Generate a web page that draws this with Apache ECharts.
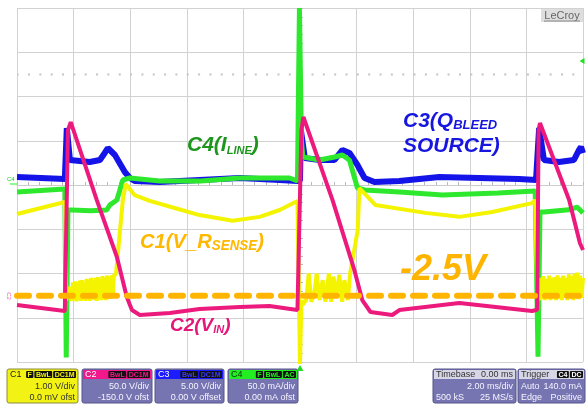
<!DOCTYPE html>
<html><head><meta charset="utf-8">
<script src="https://cdn.jsdelivr.net/npm/echarts/dist/echarts.min.js"></script>
<style>html,body{margin:0;padding:0;background:#fff;}#c{width:586px;height:406px;}</style>
</head><body><div id="c"></div>
<script>
// ---- time axis: ms, 2 ms/div, trigger at 0 ----
const timeMin = -10, timeMax = 10, timeStep = 2;
// per-channel vertical scales (8 divisions)
const c1Range = [-4, 4];        // V, 1 V/div
const c2Range = [-50, 350];     // V, 50 V/div, -150 V offset
const c3Range = [-20, 20];      // V, 5 V/div
const c4Range = [-200, 200];    // mA, 50 mA/div
const senseLevel = -2.5;        // V on C1
const graticuleDots = 2.5;      // div
const triggerTime = 0, triggerLevel = 140;

// C1  V_RSENSE  [ms, V]
const c1Trace = [[-10,-0.655],[-8.31,-0.384],[-8.26,-2.6],[-8.13,-2.3],
 [-8.06,-2.62],[-8.02,-2.2],[-7.98,-2.6],[-7.94,-2.18],[-7.90,-2.63],[-7.86,-2.22],[-7.82,-2.6],[-7.78,-2.16],[-7.74,-2.62],[-7.70,-2.15],[-7.66,-2.58],[-7.62,-2.2],[-7.58,-2.62],[-7.54,-2.12],[-7.50,-2.6],[-7.46,-2.14],[-7.42,-2.62],[-7.38,-2.1],[-7.34,-2.58],[-7.30,-2.15],[-7.26,-2.6],[-7.22,-2.1],[-7.18,-2.62],[-7.14,-2.08],[-7.10,-2.58],[-7.06,-2.12],[-7.02,-2.6],[-6.98,-2.06],[-6.94,-2.56],[-6.90,-2.1],[-6.86,-2.6],[-6.82,-2.05],[-6.78,-2.58],[-6.74,-2.08],[-6.70,-2.56],[-6.66,-2.04],[-6.62,-2.55],[-6.58,-2.06],
 [-6.50,-2.0],[-6.26,-0.34],[-6.16,0.02],[-5.84,-0.23],[-5.31,-0.36],[-4.43,-0.52],[-3.55,-0.68],[-2.38,-0.81],[-1.43,-0.72],[-0.72,-0.565],[-0.09,-0.36],[-0.03,-0.4],[0,-4.05],[0.05,-2.6],
 [0.10,-2.7],[0.22,-2.6],[0.31,-2.0],[0.40,-2.64],[0.51,-2.45],[0.59,-2.0],[0.69,-2.6],[0.80,-2.15],[0.90,-2.64],[1.02,-2.0],[1.10,-2.64],[1.18,-2.07],[1.28,-2.52],[1.39,-2.03],[1.49,-2.64],[1.57,-2.15],[1.69,-2.6],[1.77,-2.0],
 [2.04,-1.02],[2.10,-0.07],[2.66,-0.45],[4.43,-0.63],[5.63,-0.72],[6.79,-0.61],[8.2,-0.41],[8.31,-0.34],[8.38,-2.4],
 [8.45,-2.6],[8.50,-2.1],[8.55,-2.58],[8.60,-2.06],[8.65,-2.6],[8.70,-2.12],[8.75,-2.56],[8.80,-2.05],[8.85,-2.6],[8.90,-2.1],[8.95,-2.55],[9.00,-2.08],[9.05,-2.6],[9.10,-2.04],[9.15,-2.57],[9.20,-2.1],[9.25,-2.6],[9.30,-2.05],[9.35,-2.55],[9.40,-2.1],[9.45,-2.6],[9.50,-2.02],[9.55,-2.56],[9.60,-2.06],[9.65,-2.6],[9.70,-2.0],[9.75,-2.55],[9.80,-1.98],[9.85,-2.58],[9.90,-2.05],[9.95,-2.55],[10,-2.1]];

// C2  V_IN  [ms, V]
const c2Trace = [[-10,14.4],[-8.31,7.6],[-8.27,8],[-8.2,212],[-8.1,221],[-7.18,133],[-6.47,68.6],[-6.12,23.4],[-5.94,8.7],[-5.66,3.1],[-4.6,5.4],[-3.55,9.9],[-2.13,12.1],[-1.08,13.3],[-0.09,8.7],[-0.02,9],[0.05,212],[0.12,226.8],[1.15,133],[1.92,54],[2.2,20],[2.49,6.5],[3.26,3.1],[3.51,8.7],[5.63,16.7],[8.2,7.6],[8.38,9],[8.43,212],[8.48,220],[9.51,133],[9.89,84.5],[10,76.6]];

// C3  Q_BLEED SOURCE  [ms, V]
const c3Trace = [[-10,0.9],[-8.31,0.68],[-8.27,0.7],[-8.24,6.44],[-8.13,2.83],[-7.43,2.6],[-7.07,2.83],[-6.9,3.62],[-6.79,4.18],[-6.54,3.39],[-6.19,1.47],[-6.01,0.79],[-5.84,0.45],[-4.96,0.34],[-3.55,0.57],[-2.13,0.79],[-0.72,0.57],[-0.09,0.45],[0,0.5],[0.03,6.22],[0.17,3.05],[0.69,2.83],[1.22,2.83],[1.5,3.96],[1.75,3.62],[2.03,2.26],[2.28,0.79],[2.63,0.34],[3.51,0.45],[4.92,0.9],[6.33,0.79],[7.74,0.68],[8.34,0.57],[8.41,0.6],[8.45,6.44],[8.62,2.83],[9.15,2.6],[9.68,2.83],[9.86,3.96],[9.93,4.29],[10,3.6]];

// C4  I_LINE  [ms, mA]
const c4Trace = [[-10,-7.9],[-8.31,-4.5],[-8.29,-4.5],[-8.26,-195],[-8.2,-28.2],[-8.06,-28.2],[-7.4,-29],[-6.83,-28.2],[-6.72,-22.6],[-6.47,-17],[-6.26,5.65],[-6.01,7.9],[-4.96,4.5],[-3.5,4.5],[-2.13,7.9],[-0.37,7.9],[-0.09,4.5],[-0.05,4.5],[-0.02,200],[0.05,50],[0.1,31.6],[0.69,28.2],[1.22,31.6],[1.5,33.9],[1.75,28],[2.03,-3.4],[2.28,-5.65],[3.51,-7.9],[5.03,-11.3],[7,-9],[8.31,-6.8],[8.37,-6.8],[8.41,-194],[8.48,-30.5],[8.62,-30.5],[9.5,-28],[9.79,-24.9],[10,-31.6]];

// readout boxes
const c1Info = ['1.00 V/div', '0.0 mV ofst'];
const c2Info = ['50.0 V/div', '-150.0 V ofst'];
const c3Info = ['5.00 V/div', '0.00 V offset'];
const c4Info = ['50.0 mA/div', '0.00 mA ofst'];
const timebaseInfo = ['0.00 ms', '2.00 ms/div', '500 kS', '25 MS/s'];
const triggerInfo = ['Auto', '140.0 mA', 'Edge', 'Positive'];

const BF = '"Liberation Sans", Arial, sans-serif';
const ctx = document.createElement('canvas').getContext('2d');
function tw(t, f){ ctx.font = f; return ctx.measureText(t).width; }

function infoBox(b){
  const els = []; const y0 = 369, h = 34;
  els.push({type:'rect', shape:{x:b.x, y:y0, width:b.w, height:h, r:2}, style:{fill:b.body, stroke:b.stroke||'#56548a', lineWidth:1}});
  els.push({type:'rect', shape:{x:b.x+1, y:y0+1, width:b.w-2, height:9}, style:{fill:b.head}});
  els.push({type:'text', x:b.x+3, y:y0+5.5, style:{text:b.title, fill:b.titleColor, fontSize:9, fontFamily:BF, verticalAlign:'middle'}});
  if (b.headRight) els.push({type:'text', x:b.x+b.w-3, y:y0+5.5, style:{text:b.headRight, fill:b.titleColor, fontSize:9, fontFamily:BF, align:'right', verticalAlign:'middle'}});
  let bx = b.x + b.w - 2;
  for (let i = (b.badges||[]).length-1; i >= 0; i--){
    const t = b.badges[i]; const wd = tw(t, 'bold 7px '+BF) + 3; bx -= wd;
    els.push({type:'rect', shape:{x:bx, y:y0+2, width:wd, height:7, r:1}, style:{fill:'#111'}});
    els.push({type:'text', x:bx+wd/2, y:y0+5.7, style:{text:t, fill:b.badgeColor, fontSize:7, fontWeight:'bold', fontFamily:BF, align:'center', verticalAlign:'middle'}});
    bx -= 1;
  }
  const ys = [387, 397.5];
  b.rows.forEach((r, i) => {
    if (r.left) els.push({type:'text', x:b.x+3, y:ys[i], style:{text:r.left, fill:b.text, fontSize:9, fontFamily:BF, verticalAlign:'middle'}});
    if (r.right) els.push({type:'text', x:b.x+b.w-3, y:ys[i], style:{text:r.right, fill:b.text, fontSize:9, fontFamily:BF, align:'right', verticalAlign:'middle'}});
  });
  return els;
}
const PURPLE = '#7774b2';
const boxes = [].concat(
  infoBox({x:7, w:71, body:'#f2f214', head:'#f2f214', stroke:'#8a8a40', title:'C1', titleColor:'#222', badges:['F','BwL','DC1M'], badgeColor:'#f2f214', text:'#333', rows:[{right:c1Info[0]},{right:c1Info[1]}]}),
  infoBox({x:82, w:70, body:PURPLE, head:'#f0188a', title:'C2', titleColor:'#fff', badges:['BwL','DC1M'], badgeColor:'#f0188a', text:'#f4f4ff', rows:[{right:c2Info[0]},{right:c2Info[1]}]}),
  infoBox({x:155, w:69, body:PURPLE, head:'#1c1cff', title:'C3', titleColor:'#fff', badges:['BwL','DC1M'], badgeColor:'#3a3aff', text:'#f4f4ff', rows:[{right:c3Info[0]},{right:c3Info[1]}]}),
  infoBox({x:228, w:70, body:PURPLE, head:'#22ee22', title:'C4', titleColor:'#113311', badges:['F','BwL','AC'], badgeColor:'#22ee22', text:'#f4f4ff', rows:[{right:c4Info[0]},{right:c4Info[1]}]}),
  infoBox({x:433, w:83, body:PURPLE, head:'#d6d6e6', title:'Timebase', headRight:timebaseInfo[0], titleColor:'#333', badges:[], text:'#f4f4ff', rows:[{right:timebaseInfo[1]},{left:timebaseInfo[2], right:timebaseInfo[3]}]}),
  infoBox({x:518, w:67, body:PURPLE, head:'#d6d6e6', title:'Trigger', titleColor:'#333', badges:['C4','DC'], badgeColor:'#fff', text:'#f4f4ff', rows:[{left:triggerInfo[0], right:triggerInfo[1]},{left:triggerInfo[2], right:triggerInfo[3]}]})
);

function label(x, y, text, color, big, small, extra){
  return Object.assign({type:'text', x:x, y:y, z:100, style:{text:text, rich:{
    a:{fontSize:big, fontWeight:'bold', fontStyle:'italic', fontFamily:BF, fill:color},
    b:{fontSize:small, fontWeight:'bold', fontStyle:'italic', fontFamily:BF, fill:color, verticalAlign:'bottom'}
  }}}, extra||{});
}
const labels = [
  label(187, 135, '{a|C4(I}{b|LINE}{a|)}', '#1e961e', 21, 11),
  label(403, 111, '{a|C3(Q}{b|BLEED}', '#1616e0', 21, 13),
  label(403, 136, '{a|SOURCE)}', '#1616e0', 21, 13),
  label(140, 232, '{a|C1(V_R}{b|SENSE}{a|)}', '#ffb800', 21, 14, {scaleX:0.96}),
  label(400, 252, '{a|-2.5V}', '#ffb400', 36, 14),
  label(170, 316, '{a|C2(V}{b|IN}{a|)}', '#e4177b', 19, 11),
  {type:'rect', shape:{x:541, y:9, width:42, height:13}, style:{fill:'#dedede'}},
  {type:'text', x:562, y:16, style:{text:'LeCroy', fill:'#666', fontSize:11, fontFamily:BF, align:'center', verticalAlign:'middle'}},
  {type:'line', shape:{x1:544, y1:21, x2:580, y2:21}, style:{stroke:'#888', lineWidth:1}},
  {type:'text', x:7, y:179, style:{text:'C4', fill:'#22cc22', fontSize:6, fontFamily:BF, verticalAlign:'middle'}},
  {type:'line', shape:{x1:10, y1:184, x2:17, y2:184}, style:{stroke:'#22ee22', lineWidth:1}},
  {type:'text', x:9, y:296, rotation:-Math.PI/2, style:{text:'C2', fill:'#e86aa8', fontSize:6, fontFamily:BF, align:'center', verticalAlign:'middle'}}
];

const gridColor = '#d2d2d2';
const chart = echarts.init(document.getElementById('c'), null, {renderer:'canvas', width:586, height:406});
chart.setOption({
  animation:false,
  backgroundColor:'#ffffff',
  grid:{left:17, top:8, width:566, height:354, containLabel:false},
  xAxis:[
    {type:'value', min:timeMin, max:timeMax, interval:timeStep, axisLine:{show:false}, axisTick:{show:false}, axisLabel:{show:false},
     splitLine:{show:true, lineStyle:{color:gridColor, width:1}}},
    {type:'value', min:timeMin, max:timeMax, interval:timeStep, position:'bottom',
     axisLine:{show:true, onZero:true, onZeroAxisIndex:0, lineStyle:{color:'#cccccc', width:1}},
     axisTick:{show:true, inside:true, length:3, lineStyle:{color:'#b8b8b8'}},
     minorTick:{show:true, splitNumber:5, length:3, lineStyle:{color:'#b8b8b8'}},
     axisLabel:{show:false}, splitLine:{show:false}}
  ],
  yAxis:[
    {type:'value', min:c1Range[0], max:c1Range[1], interval:1,
     axisLine:{show:true, onZero:true, onZeroAxisIndex:0, lineStyle:{color:'#cccccc', width:1}},
     axisTick:{show:true, inside:true, length:3, lineStyle:{color:'#b8b8b8'}},
     minorTick:{show:true, splitNumber:5, length:3, lineStyle:{color:'#b8b8b8'}},
     axisLabel:{show:false}, splitLine:{show:true, lineStyle:{color:gridColor, width:1}}},
    {type:'value', min:c2Range[0], max:c2Range[1], show:false, splitLine:{show:false}},
    {type:'value', min:c3Range[0], max:c3Range[1], show:false, splitLine:{show:false}},
    {type:'value', min:c4Range[0], max:c4Range[1], show:false, splitLine:{show:false}}
  ],
  series:[
    {name:'dots', type:'line', yAxisIndex:0, data:[[timeMin, graticuleDots],[timeMax, graticuleDots]], symbol:'none', silent:true,
     lineStyle:{color:'#c4c4c4', width:2, type:[2, 9.34], dashOffset:-11}, z:1},
    {name:'C3', type:'line', yAxisIndex:2, data:c3Trace, symbol:'none', lineStyle:{color:'#1414e8', width:6}, z:2},
    {name:'C4', type:'line', yAxisIndex:3, data:c4Trace, symbol:'none', lineStyle:{color:'#2ee82e', width:5}, z:3,
     markPoint:{silent:true, label:{show:false}, data:[
       {coord:[triggerTime, c4Range[0]], symbol:'triangle', symbolSize:[7,6], symbolOffset:[0,6], itemStyle:{color:'#22dd22'}},
       {coord:[timeMax, triggerLevel], symbol:'triangle', symbolRotate:90, symbolSize:[6,5], symbolOffset:[-1,0], itemStyle:{color:'#22dd22'}}
     ]}},
    {name:'C1', type:'line', yAxisIndex:0, data:c1Trace, symbol:'none', lineStyle:{color:'#f4f400', width:4}, z:4},
    {name:'C2', type:'line', yAxisIndex:1, data:c2Trace, symbol:'none', lineStyle:{color:'#ec1a7c', width:4}, z:5},
    {name:'level', type:'line', yAxisIndex:0, data:[[timeMin, senseLevel],[timeMax, senseLevel]], symbol:'none', silent:true,
     lineStyle:{color:'#ffb400', width:6, type:[12,10], cap:'round'}, z:6}
  ],
  graphic: boxes.concat(labels)
});
</script></body></html>
